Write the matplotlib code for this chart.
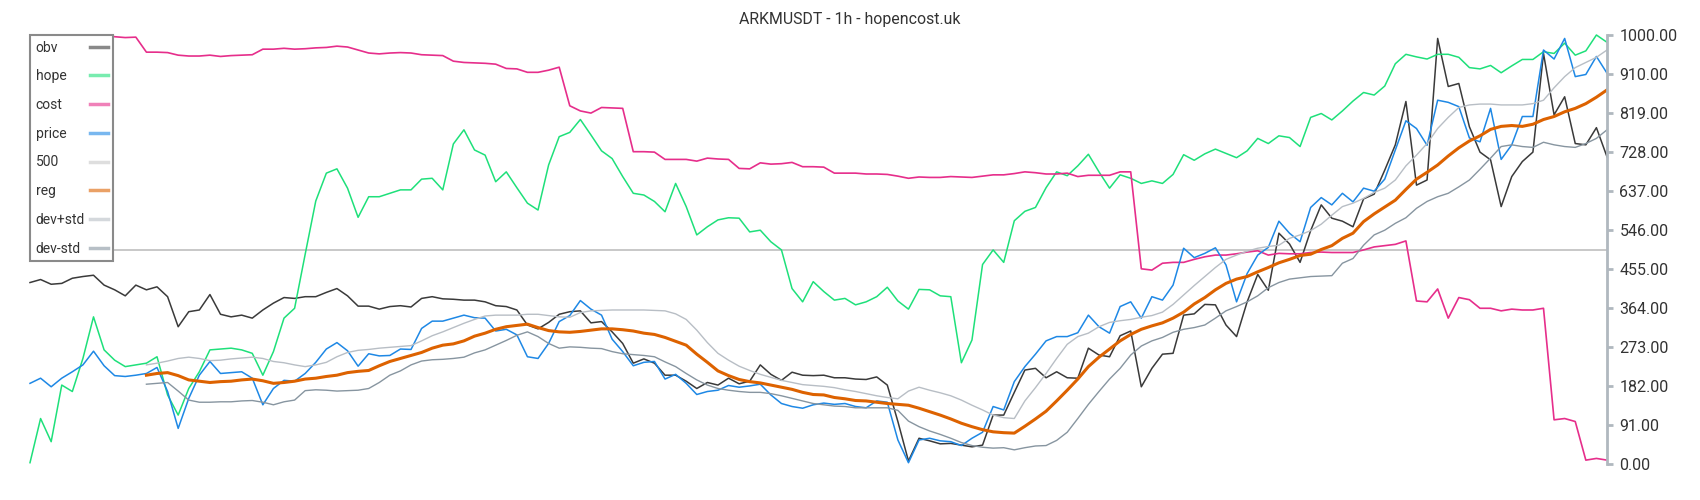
import numpy as np
import matplotlib
matplotlib.use('Agg')
import matplotlib.pyplot as plt

title = 'ARKMUSDT - 1h - hopencost.uk'

obv = [423, 430, 419, 421, 433, 437, 440, 417, 406, 392, 417, 406, 413, 390, 320, 355, 359, 395, 349, 343, 347, 340, 359, 375, 388,
       386, 390, 390, 400, 409, 392, 368, 368, 361, 367, 369, 366, 386, 390, 385, 384, 382, 382, 378, 369, 367, 359, 324, 315, 330,
       349, 355, 357, 329, 332, 308, 281, 235, 245, 235, 207, 207, 193, 176, 190, 184, 200, 187, 193, 231, 209, 195, 214, 207, 206,
       207, 201, 201, 198, 197, 203, 184, 99, 7, 60, 54, 47, 48, 44, 40, 44, 114, 114, 167, 219, 223, 201, 215, 201, 200,
       270, 254, 250, 299, 310, 180, 223, 256, 258, 347, 350, 372, 371, 324, 297, 378, 442, 405, 538, 513, 470, 544, 604, 573, 566,
       553, 618, 629, 685, 744, 845, 650, 662, 992, 880, 887, 786, 727, 709, 600, 670, 705, 727, 957, 814, 856, 747, 744, 784, 716]

hope = [3, 106, 52, 184, 169, 246, 343, 266, 242, 227, 231, 235, 250, 161, 114, 176, 215, 266, 268, 270, 266, 258, 207, 262, 340,
        363, 489, 613, 678, 688, 643, 575, 623, 623, 631, 639, 639, 664, 666, 639, 746, 779, 732, 720, 658, 681, 644, 608, 592, 697,
        763, 773, 803, 767, 730, 712, 670, 631, 627, 612, 588, 654, 600, 534, 553, 569, 574, 573, 541, 545, 518, 499, 409, 378, 425,
        402, 382, 386, 371, 378, 390, 412, 380, 361, 407, 406, 392, 390, 236, 289, 465, 499, 470, 567, 589, 598, 644, 681, 672, 695,
        722, 681, 643, 674, 666, 654, 660, 654, 675, 721, 708, 723, 734, 724, 714, 730, 759, 747, 765, 761, 740, 808, 817, 802, 823,
        846, 866, 860, 881, 933, 955, 949, 944, 955, 955, 948, 924, 921, 929, 912, 928, 943, 943, 961, 957, 981, 953, 963, 1000, 983]

cost = [1000, 1000, 1000, 1000, 1000, 1000, 1000, 999, 996, 994, 995, 960, 960, 959, 953, 951, 951, 953, 950, 952, 953, 954, 967, 967, 969,
        967, 968, 970, 971, 974, 972, 965, 958, 956, 958, 959, 958, 954, 953, 952, 939, 936, 935, 934, 932, 922, 921, 913, 913, 918,
        925, 835, 823, 818, 831, 830, 829, 728, 728, 727, 710, 710, 710, 706, 713, 711, 710, 689, 688, 702, 699, 700, 703, 693, 693,
        692, 678, 678, 678, 676, 676, 675, 671, 666, 669, 668, 668, 670, 669, 668, 671, 674, 674, 677, 681, 679, 676, 676, 678, 670,
        673, 673, 673, 681, 681, 455, 452, 468, 470, 470, 477, 483, 487, 487, 490, 494, 497, 487, 491, 490, 490, 493, 494, 493, 493,
        493, 499, 506, 509, 512, 520, 380, 378, 408, 340, 388, 383, 363, 363, 357, 361, 359, 359, 363, 103, 106, 99, 9, 13, 9]

price = [188, 200, 180, 200, 215, 231, 263, 229, 206, 204, 207, 211, 225, 169, 83, 153, 207, 239, 211, 213, 215, 200, 138, 176, 195,
         193, 211, 237, 268, 283, 264, 228, 257, 252, 253, 268, 267, 316, 333, 333, 340, 347, 341, 340, 310, 314, 301, 250, 246, 281,
         332, 346, 381, 361, 347, 291, 262, 229, 237, 239, 198, 209, 188, 162, 169, 172, 183, 179, 182, 186, 161, 141, 134, 130, 138,
         142, 139, 141, 134, 131, 147, 144, 56, 3, 56, 60, 54, 52, 43, 60, 74, 134, 126, 192, 227, 256, 287, 297, 297, 306,
         347, 320, 305, 367, 378, 340, 390, 382, 417, 503, 481, 491, 504, 464, 378, 444, 487, 505, 566, 538, 518, 598, 621, 604, 631,
         611, 643, 636, 664, 732, 800, 782, 743, 848, 843, 833, 760, 751, 829, 710, 744, 810, 810, 965, 944, 992, 903, 908, 950, 911]

# reg / dev start after the first 11 candles
reg = [None] * 11 + [207, 211, 213, 206, 196, 193, 190, 192, 193, 196, 198, 194, 188, 190,
       193, 198, 200, 204, 207, 213, 216, 218, 229, 239, 246, 253, 260, 270, 277, 280, 287, 298, 305, 314, 320, 323, 326, 318, 311,
       308, 307, 309, 312, 315, 315, 313, 310, 305, 302, 295, 286, 277, 256, 237, 217, 206, 197, 192, 189, 184, 179, 174, 167, 162,
       161, 155, 152, 148, 147, 144, 141, 139, 137, 130, 122, 114, 105, 95, 87, 80, 75, 73, 72, 88, 105, 123, 147, 172, 198,
       227, 249, 268, 287, 302, 314, 322, 329, 340, 354, 373, 388, 406, 421, 431, 437, 448, 458, 469, 477, 486, 489, 500, 509, 526,
       538, 565, 583, 599, 615, 640, 664, 680, 697, 718, 737, 753, 765, 780, 787, 789, 787, 792, 803, 810, 821, 829, 840, 855, 872]

dev_up = [None] * 11 + [231, 235, 240, 246, 249, 246, 241, 242, 245, 247, 249, 246, 239, 236,
          231, 227, 231, 237, 250, 260, 265, 267, 270, 272, 274, 276, 287, 299, 308, 318, 328, 337, 345, 347, 347, 347, 349, 349, 346,
          343, 342, 353, 357, 358, 359, 359, 359, 359, 358, 357, 350, 337, 312, 283, 258, 242, 228, 218, 209, 202, 195, 190, 185, 183,
          181, 178, 173, 169, 164, 159, 155, 152, 170, 179, 172, 166, 159, 149, 137, 126, 114, 108, 106, 147, 178, 211, 246, 279, 297,
          305, 320, 330, 334, 337, 342, 346, 354, 372, 394, 416, 437, 458, 477, 487, 496, 503, 507, 510, 526, 534, 544, 559, 580, 600,
          608, 619, 633, 643, 662, 695, 720, 747, 782, 808, 831, 837, 839, 839, 837, 837, 837, 840, 848, 877, 903, 924, 936, 948, 965]

dev_dn = [None] * 11 + [186, 188, 190, 170, 149, 144, 144, 145, 145, 147, 148, 144, 138, 145,
          149, 171, 173, 172, 170, 171, 172, 176, 190, 207, 217, 231, 240, 243, 244, 246, 249, 259, 266, 277, 288, 300, 308, 297, 281,
          270, 273, 272, 270, 269, 262, 257, 255, 253, 250, 238, 227, 211, 196, 184, 176, 172, 169, 167, 167, 164, 159, 153, 147, 141,
          138, 135, 134, 131, 131, 131, 131, 125, 100, 87, 77, 69, 60, 50, 43, 39, 37, 38, 33, 38, 42, 43, 55, 74, 106,
          139, 169, 198, 223, 254, 275, 287, 295, 307, 314, 318, 324, 340, 357, 367, 378, 392, 411, 423, 431, 434, 437, 438, 439, 468,
          479, 510, 534, 545, 561, 574, 596, 612, 623, 631, 646, 662, 687, 713, 740, 744, 740, 738, 750, 744, 740, 738, 747, 759, 779]

level = 500
yticks = [0, 91, 182, 273, 364, 455, 546, 637, 728, 819, 910, 1000]

plt.rcParams['font.family'] = ['Roboto', 'DejaVu Sans']

x = np.arange(len(price))
reg = np.array(reg, dtype=float)
dev_up = np.array(dev_up, dtype=float)
dev_dn = np.array(dev_dn, dtype=float)

fig = plt.figure(figsize=(17, 5), dpi=100)
ax = fig.add_axes([30 / 1700, 36 / 500, 1577 / 1700, 429 / 500])

ax.plot(x, obv, color='#3a3a3a', lw=1.1, label='obv', clip_on=False)
ax.plot(x, hope, color='#1ee07a', lw=1.1, label='hope', clip_on=False)
ax.plot(x, cost, color='#e62e8b', lw=1.2, label='cost', clip_on=False)
ax.plot(x, price, color='#1e88e5', lw=1.1, label='price', clip_on=False)
ax.axhline(level, color='#c8c8c8', lw=1.4, label='500', zorder=1.5)
ax.plot(x, reg, color='#dd6200', lw=2.2, label='reg')
ax.plot(x, dev_up, color='#b8bec5', lw=1, label='dev+std')
ax.plot(x, dev_dn, color='#8795a0', lw=1, label='dev-std')

ax.set_xlim(0, len(x) - 1)
ax.set_ylim(0, 1000)
ax.yaxis.tick_right()
ax.set_yticks(yticks)
ax.set_yticklabels(['%.2f' % v for v in yticks])
ax.tick_params(axis='y', colors='#b0b8bf', labelcolor='#333333', width=2, length=4, labelsize=11.5, pad=5)
ax.set_xticks([])
for s in ['left', 'top', 'bottom']:
    ax.spines[s].set_visible(False)
ax.spines['right'].set_color('#b0b8bf')
ax.spines['right'].set_linewidth(2)

# title is centred on the whole figure, not on the axes
fig.suptitle(title, x=0.5, y=1 - 19.5 / 500, va='center', fontsize=11.4, color='#333333')

leg = ax.legend(loc='upper left', bbox_to_anchor=(0, 1), borderaxespad=0, markerfirst=False,
                fontsize=10, labelspacing=1.06, handlelength=1.25, handletextpad=0.4, borderpad=0.4,
                fancybox=False, framealpha=1, edgecolor='#8a8a8a', labelcolor='#333333')
leg.get_frame().set_linewidth(1.5)
for ln in leg.get_lines():
    ln.set_linewidth(2.5)
    ln.set_alpha(0.6)

# left-align legend labels: widen the text/handle gap of the shorter rows
fig.canvas.draw()
r = fig.canvas.get_renderer()
widths = [t.get_window_extent(r).width for t in leg.get_texts()]
rows = leg._legend_handle_box.get_children()[0].get_children()
for row, w in zip(rows, widths):
    row.sep = 0.4 * 10 + (max(widths) - w) * 72 / fig.dpi

plt.savefig('out.png', dpi=100)
